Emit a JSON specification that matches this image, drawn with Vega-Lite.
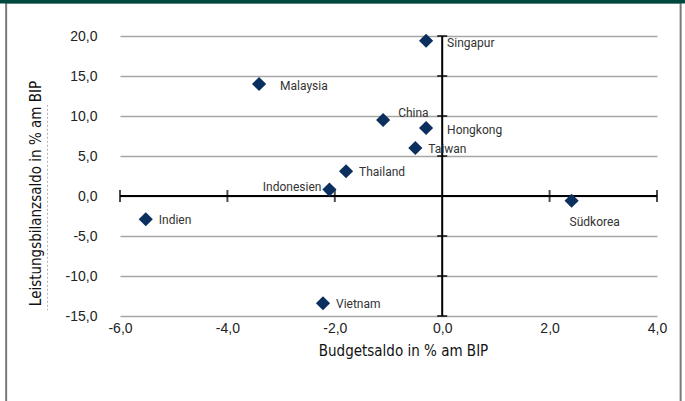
{
  "$schema": "https://vega.github.io/schema/vega-lite/v6.json",
  "autosize": "none",
  "width": 537,
  "height": 280,
  "padding": {"left": 120, "top": 36, "right": 28, "bottom": 85},
  "background": "white",
  "config": {"view": {"stroke": null}, "font": "Liberation Sans"},
  "datasets": {
    "countries": [
      {"land": "Singapur", "budget": -0.3, "leistung": 19.4},
      {"land": "Malaysia", "budget": -3.41, "leistung": 14.0},
      {"land": "China", "budget": -1.1, "leistung": 9.5},
      {"land": "Hongkong", "budget": -0.3, "leistung": 8.5},
      {"land": "Taiwan", "budget": -0.5, "leistung": 6.0},
      {"land": "Thailand", "budget": -1.79, "leistung": 3.1},
      {"land": "Indonesien", "budget": -2.1, "leistung": 0.8},
      {"land": "Indien", "budget": -5.52, "leistung": -2.9},
      {"land": "Südkorea", "budget": 2.41, "leistung": -0.6},
      {"land": "Vietnam", "budget": -2.22, "leistung": -13.4}
    ],
    "xticks": [{"v": -6}, {"v": -4}, {"v": -2}, {"v": 2}, {"v": 4}],
    "yticks": [{"v": -15}, {"v": -10}, {"v": -5}, {"v": 5}, {"v": 10}, {"v": 15}, {"v": 20}],
    "one": [{}]
  },
  "layer": [
    {
      "data": {"name": "one"},
      "mark": {"type": "rect", "fill": "transparent", "stroke": "#7a7a7a", "strokeWidth": 2, "clip": false},
      "encoding": {
        "x": {"datum": -8.12, "type": "quantitative"},
        "x2": {"datum": 4.44},
        "y": {"datum": 24.2, "type": "quantitative"},
        "y2": {"datum": -30}
      }
    },
    {
      "data": {"name": "one"},
      "mark": {"type": "rect", "fill": "#00473d", "clip": false},
      "encoding": {
        "x": {"datum": -8.4, "type": "quantitative"},
        "x2": {"datum": 4.7},
        "y": {"datum": 24.6, "type": "quantitative"},
        "y2": {"datum": 24.05}
      }
    },
    {
      "data": {"name": "one"},
      "mark": {"type": "rule", "color": "#b5b5b5", "strokeWidth": 1, "strokeDash": [2, 2], "clip": false},
      "encoding": {
        "x": {"datum": -7.35, "type": "quantitative"},
        "y": {"datum": 11.4, "type": "quantitative"},
        "y2": {"datum": -14.3}
      }
    },
    {
      "data": {"name": "countries"},
      "mark": {"type": "point", "opacity": 0},
      "encoding": {
        "x": {
          "field": "budget", "type": "quantitative",
          "scale": {"domain": [-6, 4], "nice": false, "zero": false},
          "axis": {
            "values": [-6, -4, -2, 0, 2, 4], "tickCount": 20,
            "labelExpr": "replace(replace(format(datum.value,'.1f'),'.',','),'\u2212','-')",
            "domain": false, "ticks": false, "grid": false,
            "labelFlush": false, "labelOverlap": false,
            "labelFontSize": 14, "labelColor": "#222", "labelPadding": 5,
            "title": "Budgetsaldo in % am BIP",
            "titleFont": "DejaVu Sans Condensed, Roboto, sans-serif", "titleFontSize": 15, "titleFontWeight": "normal",
            "titleColor": "#111", "titlePadding": 8, "titleX": 283
          }
        },
        "y": {
          "field": "leistung", "type": "quantitative",
          "scale": {"domain": [-15, 20], "nice": false, "zero": false},
          "axis": {
            "values": [-15, -10, -5, 0, 5, 10, 15, 20], "tickCount": 20,
            "labelExpr": "replace(replace(format(datum.value,'.1f'),'.',','),'\u2212','-')",
            "domain": false, "ticks": false,
            "labelFlush": false, "labelOverlap": false,
            "grid": true, "gridColor": "#a6a6a6", "gridWidth": 1.5,
            "labelFontSize": 14, "labelColor": "#222", "labelPadding": 23,
            "title": "Leistungsbilanzsaldo in % am BIP",
            "titleFont": "DejaVu Sans Condensed, Roboto, sans-serif", "titleFontSize": 15, "titleFontWeight": "normal",
            "titleColor": "#111", "titlePadding": 22, "titleY": 157
          }
        }
      }
    },
    {
      "data": {"name": "one"},
      "mark": {"type": "rule", "color": "#000", "strokeWidth": 2},
      "encoding": {
        "x": {"datum": -6, "type": "quantitative"},
        "x2": {"datum": 4},
        "y": {"datum": 0, "type": "quantitative"}
      }
    },
    {
      "data": {"name": "one"},
      "mark": {"type": "rule", "color": "#000", "strokeWidth": 2},
      "encoding": {
        "x": {"datum": 0, "type": "quantitative"},
        "y": {"datum": -15, "type": "quantitative"},
        "y2": {"datum": 20}
      }
    },
    {
      "data": {"name": "xticks"},
      "mark": {"type": "tick", "orient": "vertical", "color": "#000", "thickness": 2, "size": 12},
      "encoding": {
        "x": {"field": "v", "type": "quantitative"},
        "y": {"datum": 0, "type": "quantitative"}
      }
    },
    {
      "data": {"name": "yticks"},
      "mark": {"type": "tick", "orient": "horizontal", "color": "#000", "thickness": 2, "size": 10},
      "encoding": {
        "x": {"datum": 0, "type": "quantitative"},
        "y": {"field": "v", "type": "quantitative"}
      }
    },
    {
      "data": {"name": "countries"},
      "mark": {"type": "point", "shape": "diamond", "filled": true, "color": "#0b2f5e", "size": 200, "opacity": 1},
      "encoding": {
        "x": {"field": "budget", "type": "quantitative"},
        "y": {"field": "leistung", "type": "quantitative"}
      }
    },
    {
      "data": {"name": "countries"},
      "transform": [{"filter": "indexof(['Singapur','Malaysia','Hongkong'], datum.land) >= 0"}],
      "mark": {"type": "text", "align": "left", "baseline": "middle", "dx": 21, "dy": 2, "fontSize": 12, "font": "Roboto", "color": "#333"},
      "encoding": {
        "x": {"field": "budget", "type": "quantitative"},
        "y": {"field": "leistung", "type": "quantitative"},
        "text": {"field": "land"}
      }
    },
    {
      "data": {"name": "countries"},
      "transform": [{"filter": "indexof(['Thailand','Taiwan','Vietnam','Indien'], datum.land) >= 0"}],
      "mark": {"type": "text", "align": "left", "baseline": "middle", "dx": 13, "dy": 1, "fontSize": 12, "font": "Roboto", "color": "#333"},
      "encoding": {
        "x": {"field": "budget", "type": "quantitative"},
        "y": {"field": "leistung", "type": "quantitative"},
        "text": {"field": "land"}
      }
    },
    {
      "data": {"name": "countries"},
      "transform": [{"filter": "datum.land === 'China'"}],
      "mark": {"type": "text", "align": "left", "baseline": "middle", "dx": 15, "dy": -7, "fontSize": 12, "font": "Roboto", "color": "#333"},
      "encoding": {
        "x": {"field": "budget", "type": "quantitative"},
        "y": {"field": "leistung", "type": "quantitative"},
        "text": {"field": "land"}
      }
    },
    {
      "data": {"name": "countries"},
      "transform": [{"filter": "datum.land === 'Indonesien'"}],
      "mark": {"type": "text", "align": "right", "baseline": "middle", "dx": -8, "dy": -3, "fontSize": 12, "font": "Roboto", "color": "#333"},
      "encoding": {
        "x": {"field": "budget", "type": "quantitative"},
        "y": {"field": "leistung", "type": "quantitative"},
        "text": {"field": "land"}
      }
    },
    {
      "data": {"name": "countries"},
      "transform": [{"filter": "datum.land === 'Südkorea'"}],
      "mark": {"type": "text", "align": "left", "baseline": "middle", "dx": -2, "dy": 21, "fontSize": 12, "font": "Roboto", "color": "#333"},
      "encoding": {
        "x": {"field": "budget", "type": "quantitative"},
        "y": {"field": "leistung", "type": "quantitative"},
        "text": {"field": "land"}
      }
    }
  ]
}
